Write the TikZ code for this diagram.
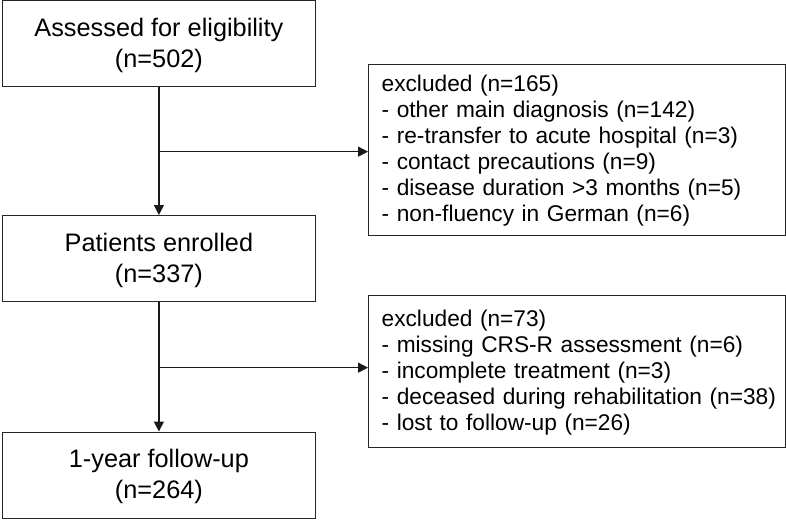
\documentclass[tikz,border=0pt]{standalone}
\usepackage{fontspec}
\setmainfont{Liberation Sans}
\usetikzlibrary{arrows.meta}
\begin{document}
\begin{tikzpicture}[x=1pt,y=1pt,
  mainbox/.style={draw=black!85, line width=1.3pt, anchor=north west, minimum width=312.5pt, minimum height=86pt, align=center, inner sep=0pt, font=\fontsize{25.3}{31}\selectfont},
  exclbox/.style={draw=black!85, line width=1.3pt, anchor=north west, minimum width=417pt, text width=397pt, inner xsep=10pt, inner ysep=0pt, align=left, font=\fontsize{22.7}{26}\selectfont},
  arr/.style={line width=1.3pt, draw=black!90, -{Triangle[length=10pt,width=10pt]}}]
\useasboundingbox (0,0) rectangle (786,-520);
\node[mainbox] (b1) at (2,0) {\strut Assessed for eligibility\\(n=502)};
\node[mainbox] (b2) at (2,-215) {\strut Patients enrolled\\(n=337)};
\node[mainbox] (b3) at (2,-431.5) {\strut 1-year follow-up\\(n=264)};
\node[exclbox, minimum height=171pt] (e1) at (368,-64) {\hspace*{3pt}\strut excluded (n=165)\\\hspace*{3pt}- other main diagnosis (n=142)\\\hspace*{3pt}- re-transfer to acute hospital (n=3)\\\hspace*{3pt}- contact precautions (n=9)\\\hspace*{3pt}- disease duration >3 months (n=5)\\\hspace*{3pt}- non-fluency in German (n=6)};
\node[exclbox, minimum height=152pt] (e2) at (368,-295) {\hspace*{3pt}\strut excluded (n=73)\\\hspace*{3pt}- missing CRS-R assessment (n=6)\\\hspace*{3pt}- incomplete treatment (n=3)\\\hspace*{3pt}\mbox{- deceased during rehabilitation (n=38)}\\\hspace*{3pt}- lost to follow-up (n=26)};
\coordinate (j1) at ([yshift=-1.5pt]b1.south |- e1.west);
\coordinate (j2) at ([yshift=4pt]b2.south |- e2.west);
\draw[arr] (b1.south) -- (b2.north);
\draw[arr] (j1) -- (j1 -| e1.west);
\draw[arr] (b2.south) -- (b3.north);
\draw[arr] (j2) -- (j2 -| e2.west);
\end{tikzpicture}
\end{document}
